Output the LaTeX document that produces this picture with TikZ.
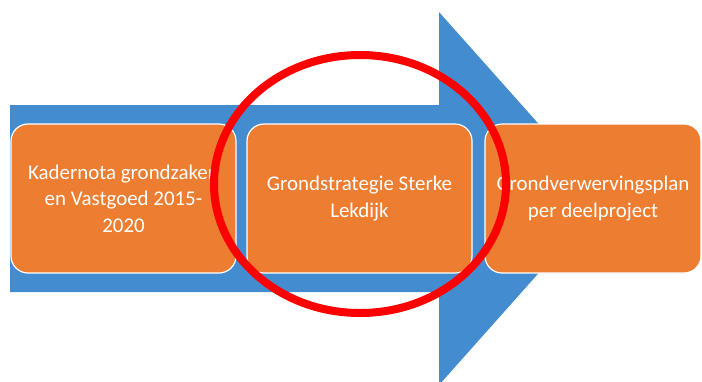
\documentclass[tikz,border=0pt]{standalone}
\usepackage{fontspec}
\setmainfont{Carlito}
\definecolor{arrowblue}{HTML}{438CCF}
\definecolor{boxorange}{HTML}{ED7D31}
\definecolor{ringred}{HTML}{FF0000}
\tikzset{
  stage/.style={rectangle, rounded corners=17bp, fill=boxorange, draw=white, line width=1.2bp,
    minimum width=225bp, minimum height=149bp, text=white, align=center,
    font=\fontsize{21}{26.5}\selectfont, inner sep=0pt},
  ring/.style={draw=ringred, line width=8bp}
}
\begin{document}
\begin{tikzpicture}[x=1bp,y=-1bp]
\useasboundingbox (0,0) rectangle (702,381);
\fill[arrowblue] (10,105) -- (439,105) -- (439,12) -- (605,198.5) -- (439,385) -- (439,292) -- (10,292) -- cycle;
\node[stage] (s1) at (123.5,198.5) {Kadernota grondzaken\\en Vastgoed 2015-\\2020};
\node[stage] (s2) at (359.5,198.5) {Grondstrategie Sterke\\Lekdijk};
\node[stage, minimum width=216bp] (s3) at (593,198.5) {Grondverwervingsplan\\per deelproject};
\draw[ring] (360,184) ellipse [x radius=146, y radius=129];
\end{tikzpicture}
\end{document}
